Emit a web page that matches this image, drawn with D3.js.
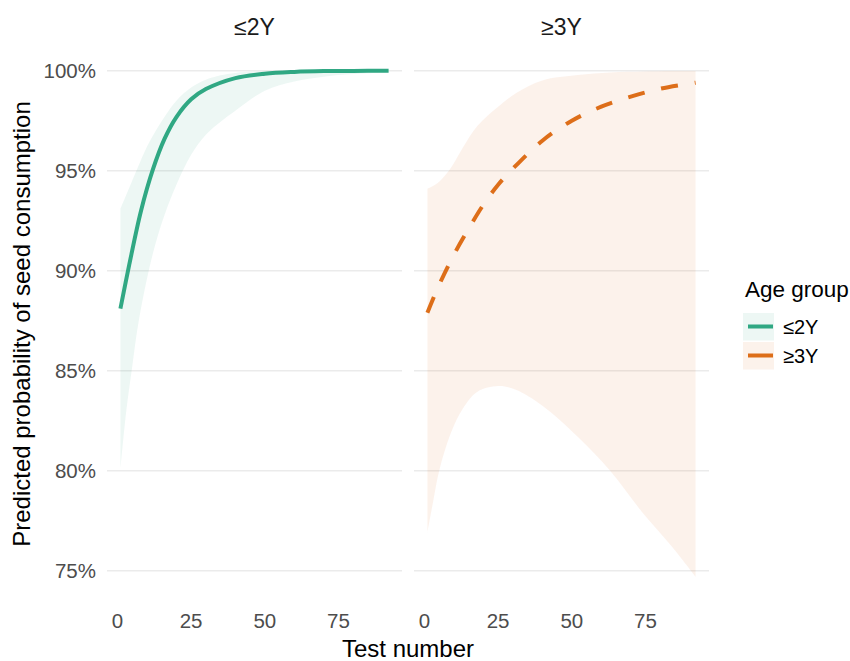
<!DOCTYPE html>
<html>
<head>
<meta charset="utf-8">
<script src="https://cdn.jsdelivr.net/npm/d3@7"></script>
<style>
  body { margin: 0; background: #fff; }
  text { font-family: "Liberation Sans", Arial, sans-serif; }
</style>
</head>
<body>
<svg id="chart" width="850" height="661"></svg>
<script>
// Age groups (facets / legend)
const groups = ["≤2Y", "≥3Y"];
const groupColors = ["#1B9E77", "#D95F02"];

// Fitted probability, ≤2Y
const youngFitX = [1, 4, 8, 12, 16, 20, 25, 30, 40, 50, 60, 70, 80, 92];
const youngFit  = [0.881, 0.903, 0.930, 0.9505, 0.966, 0.9768, 0.9857, 0.9908, 0.9963, 0.9985, 0.9994, 0.9998, 0.9999, 1.0];

// Confidence band, ≤2Y
const youngBandX = [1, 3, 5, 7, 10, 13, 16, 20, 25, 30, 35, 40, 50, 60, 70, 80, 92];
const youngUpper = [0.931, 0.938, 0.945, 0.952, 0.962, 0.970, 0.977, 0.985, 0.9916, 0.9955, 0.9977, 0.9989, 0.9997, 0.9999, 1.0, 1.0, 1.0];
const youngLower = [0.801, 0.830, 0.852, 0.873, 0.896, 0.914, 0.928, 0.943, 0.958, 0.968, 0.9745, 0.980, 0.990, 0.9946, 0.9970, 0.9983, 0.9992];

// Fitted probability, ≥3Y
const oldFitX = [1, 5, 10, 15, 20, 25, 30, 40, 50, 60, 70, 80, 92];
const oldFit  = [0.879, 0.893, 0.908, 0.921, 0.933, 0.943, 0.951, 0.965, 0.975, 0.982, 0.987, 0.991, 0.994];

// Confidence band, ≥3Y
const oldBandX = [1, 3, 5, 9, 13, 18, 25, 31, 40, 52, 63, 74, 84, 92];
const oldUpper = [0.941, 0.9425, 0.9445, 0.9515, 0.9615, 0.9725, 0.982, 0.9887, 0.9951, 0.9978, 0.9991, 0.9996, 0.9998, 0.9999];
const oldLower = [0.769, 0.785, 0.800, 0.819, 0.831, 0.8395, 0.8423, 0.8405, 0.8325, 0.817, 0.800, 0.779, 0.762, 0.747];

// Axis ticks
const xTicks = [0, 25, 50, 75];
const yTicks = [0.75, 0.80, 0.85, 0.90, 0.95, 1.00];

const panels = [
  { name: groups[0], color: groupColors[0], dash: null,
    fitX: youngFitX, fit: youngFit, bandX: youngBandX, upper: youngUpper, lower: youngLower,
    x0: 107, x1: 402 },
  { name: groups[1], color: groupColors[1], dash: "17,17",
    fitX: oldFitX, fit: oldFit, bandX: oldBandX, upper: oldUpper, lower: oldLower,
    x0: 414, x1: 709 }
];

const svg = d3.select("#chart");
const xMin = 1, xMax = 92;
const pad = (xMax - xMin) * 0.05;
const curve = d3.curveCatmullRom.alpha(0.5);

const y = d3.scaleLinear().domain([0.75, 1.0]).range([570.7, 70.7]);
const pctFmt = d3.format(".0%");

// Y tick labels
svg.append("g").selectAll("text").data(yTicks).join("text")
  .attr("x", 96).attr("y", d => y(d)).attr("dy", "0.36em")
  .attr("text-anchor", "end").attr("font-size", 20.5).attr("fill", "#4D4D4D")
  .text(d => pctFmt(d));

panels.forEach(p => {
  const x = d3.scaleLinear().domain([xMin - pad, xMax + pad]).range([p.x0, p.x1]);
  const g = svg.append("g");

  // horizontal gridlines
  g.selectAll("line.grid").data(yTicks).join("line")
    .attr("x1", p.x0).attr("x2", p.x1)
    .attr("y1", d => y(d)).attr("y2", d => y(d))
    .attr("stroke", "#EBEBEB").attr("stroke-width", 1.5);

  // confidence ribbon
  const band = p.bandX.map((t, i) => ({ t, lo: p.lower[i], hi: p.upper[i] }));
  g.append("path").datum(band)
    .attr("d", d3.area().x(d => x(d.t)).y0(d => y(d.lo)).y1(d => y(d.hi)).curve(curve))
    .attr("fill", p.color).attr("fill-opacity", 0.08);

  // fitted line
  const fit = p.fitX.map((t, i) => ({ t, v: p.fit[i] }));
  g.append("path").datum(fit)
    .attr("d", d3.line().x(d => x(d.t)).y(d => y(d.v)).curve(curve))
    .attr("fill", "none").attr("stroke", p.color).attr("stroke-opacity", 0.9)
    .attr("stroke-width", 4)
    .attr("stroke-dasharray", p.dash);

  // x tick labels
  g.selectAll("text.tick").data(xTicks).join("text")
    .attr("x", d => x(d)).attr("y", 628)
    .attr("text-anchor", "middle").attr("font-size", 20.5).attr("fill", "#4D4D4D")
    .text(d => d);

  // facet strip label
  g.append("text")
    .attr("x", (p.x0 + p.x1) / 2).attr("y", 35)
    .attr("text-anchor", "middle").attr("font-size", 23).attr("fill", "#1A1A1A")
    .text(p.name);
});

// axis titles
svg.append("text")
  .attr("x", 408).attr("y", 657).attr("text-anchor", "middle")
  .attr("font-size", 24).attr("fill", "#000")
  .text("Test number");

svg.append("text")
  .attr("transform", "translate(30,324) rotate(-90)")
  .attr("text-anchor", "middle").attr("font-size", 24).attr("fill", "#000")
  .text("Predicted probability of seed consumption");

// legend
const lg = svg.append("g");
lg.append("text").attr("x", 745).attr("y", 297)
  .attr("font-size", 22.5).attr("fill", "#000").text("Age group");

panels.forEach((p, i) => {
  const ky = 313 + i * 29;
  lg.append("rect").attr("x", 743).attr("y", ky).attr("width", 31).attr("height", 27.5)
    .attr("fill", p.color).attr("fill-opacity", 0.08);
  lg.append("line").attr("x1", 748).attr("x2", 773).attr("y1", ky + 13.5).attr("y2", ky + 13.5)
    .attr("stroke", p.color).attr("stroke-opacity", 0.9).attr("stroke-width", 4);
  lg.append("text").attr("x", 783).attr("y", ky + 13.5).attr("dy", "0.36em")
    .attr("font-size", 20).attr("fill", "#000").text(p.name);
});
</script>
</body>
</html>
